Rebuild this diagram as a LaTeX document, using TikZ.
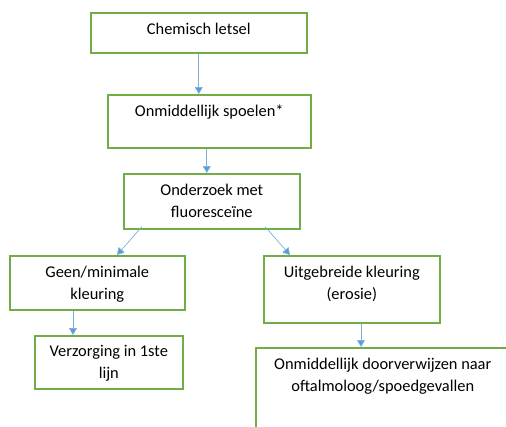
\documentclass[tikz,border=0pt]{standalone}
\usepackage{fontspec}
\setmainfont{Carlito}
\usetikzlibrary{arrows.meta,calc}
\definecolor{boxgreen}{HTML}{70AD47}
\definecolor{arrowblue}{HTML}{5B9BD5}
\tikzset{
  stepbox/.style={draw=boxgreen, line width=1.6pt, fill=white, inner sep=0pt,
    anchor=north west, rectangle},
  boxtext/.style={anchor=north, inner sep=0pt, align=center, text=black,
    font=\fontsize{16.4}{22}\selectfont},
  flow/.style={draw=arrowblue!80, line width=0.7pt,
    -{Triangle[length=7pt,width=8pt,fill=arrowblue]}},
}
\begin{document}
\begin{tikzpicture}[x=1pt,y=-1pt]
  \useasboundingbox (0,0) rectangle (506,426);
  \fill[white] (0,0) rectangle (506,426);
  \clip (0,0) rectangle (506,426);

  % boxes
  \node[stepbox, minimum width=216pt, minimum height=40pt] (b1) at (90,12) {};
  \node[stepbox, minimum width=203pt, minimum height=53pt] (b2) at (107,94) {};
  \node[stepbox, minimum width=176pt, minimum height=55pt] (b3) at (123,173) {};
  \node[stepbox, minimum width=175pt, minimum height=54pt] (b4) at (9,255) {};
  \node[stepbox, minimum width=148pt, minimum height=53pt] (b5) at (34,335) {};
  \node[stepbox, minimum width=176pt, minimum height=67pt] (b6) at (263,255) {};
  \node[stepbox, minimum width=254pt, minimum height=110pt] (b7) at (255,347) {};

  % labels, set from the top of each box
  \node[boxtext] (t1) at ($(b1.north)+(0,10.5)$) {Chemisch letsel};
  \node[boxtext] (t2) at ($(b2.north)+(0,10.5)$) {Onmiddellijk spoelen*};
  \node[boxtext] (t3) at ($(b3.north)+(0,10.5)$) {Onderzoek met\\fluoresceïne};
  \node[boxtext] (t4) at ($(b4.north)+(0,10.5)$) {Geen/minimale\\kleuring};
  \node[boxtext] (t5) at ($(b5.north)+(0,10.5)$) {Verzorging in 1ste\\lijn};
  \node[boxtext] (t6) at ($(b6.north)+(0,10.5)$) {Uitgebreide kleuring\\(erosie)};
  \node[boxtext] (t7) at ($(b7.north)+(0,10.5)$) {Onmiddellijk doorverwijzen naar\\oftalmoloog/spoedgevallen};

  % connectors
  \draw[flow] (b1.south) -- (b1.south |- b2.north);
  \coordinate (a2) at ($(b2.south)+(-2.5,0)$);
  \draw[flow] (a2) -- (a2 |- b3.north);
  \draw[flow] ($(b3.south west)+(19,-3)$) -- ($(b4.north west)+(108,0)$);
  \draw[flow] ($(b3.south west)+(142,-3)$) -- ($(b6.north west)+(27,0)$);
  \coordinate (a5) at ($(b4.south west)+(64,0)$);
  \draw[flow] (a5) -- (a5 |- b5.north);
  \coordinate (a6) at ($(b6.south west)+(98,0)$);
  \draw[flow] (a6) -- (a6 |- b7.north);
\end{tikzpicture}
\end{document}
